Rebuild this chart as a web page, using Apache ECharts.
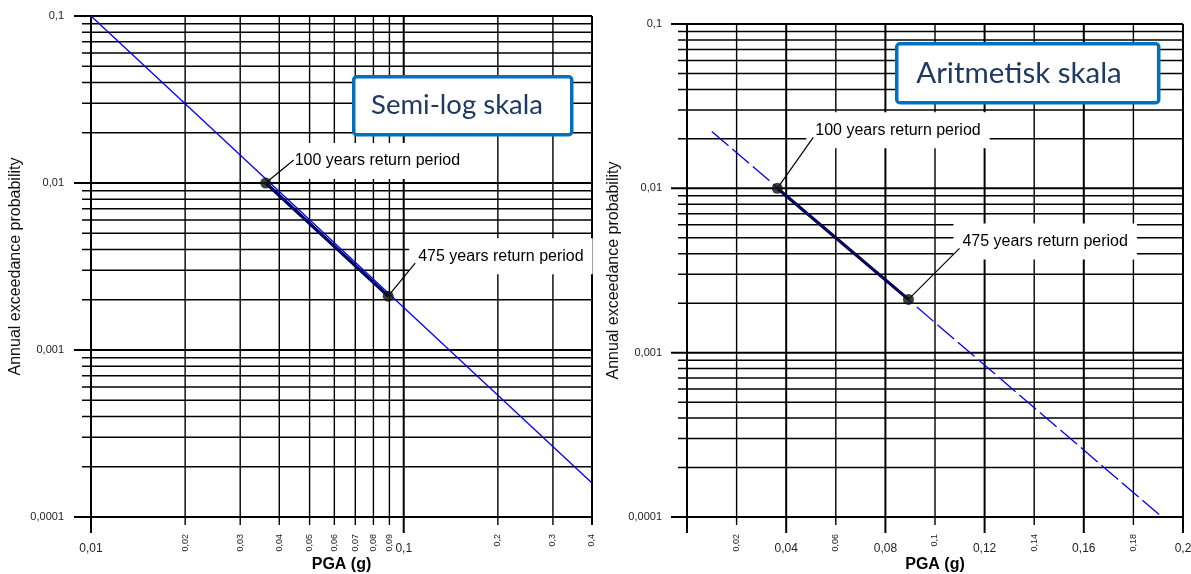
<!DOCTYPE html>
<html><head><meta charset="utf-8">
<script src="https://cdn.jsdelivr.net/npm/echarts@6/dist/echarts.min.js"></script>
<style>html,body{margin:0;padding:0;background:#fff}#c{width:1191px;height:574px}</style>
</head><body><div id="c"></div>
<script>
// ---------- data ----------
const yGridValues = [
  0.0001,0.0002,0.0003,0.0004,0.0005,0.0006,0.0007,0.0008,0.0009,
  0.001,0.002,0.003,0.004,0.005,0.006,0.007,0.008,0.009,
  0.01,0.02,0.03,0.04,0.05,0.06,0.07,0.08,0.09,
  0.1
];
const yMajorValues = [0.0001, 0.001, 0.01, 0.1];
const yTickLabels = ['0,0001', '0,001', '0,01', '0,1'];

const leftXValues = [0.01,0.02,0.03,0.04,0.05,0.06,0.07,0.08,0.09,0.1,0.2,0.3,0.4];
const leftXLabels = ['0,01','0,02','0,03','0,04','0,05','0,06','0,07','0,08','0,09','0,1','0,2','0,3','0,4'];
const leftXMajor = [0.01, 0.1];

const rightXValues = [0,0.02,0.04,0.06,0.08,0.1,0.12,0.14,0.16,0.18,0.2];
const rightXLabels = ['','0,02','0,04','0,06','0,08','0,1','0,12','0,14','0,16','0,18','0,2'];
const rightXMajor = [0,0.04,0.08,0.12,0.16,0.2];

// hazard curve
const leftCurve = [[0.01, 0.1], [0.4, 0.00016]];
const rightCurve = [[0.01, 0.0222], [0.1915, 0.0001]];
const leftReturnPoints = [[0.0362, 0.01], [0.0892, 0.0021]];
const rightReturnPoints = [[0.0364, 0.01], [0.0893, 0.00211]];
const returnLabels = ['100 years return period', '475 years return period'];

const leftTitle = 'Semi-log skala';
const rightTitle = 'Aritmetisk skala';
const xName = 'PGA (g)';
const yName = 'Annual exceedance probability';

// ---------- layout / style ----------
const FONT = '"Liberation Sans", Arial, sans-serif';
const PADX = 9, PADY = 10;
const leftLabelLayout = [{dx:29, dy:-22, lx:28, ly:-23}, {dx:30, dy:-40, lx:27, ly:-33}];
const rightLabelLayout = [{dx:38, dy:-58, lx:36, ly:-51}, {dx:54, dy:-58, lx:51, ly:-51}];

function isIn(v, arr) { return arr.some(m => Math.abs(m - v) < 1e-9); }

function hLines(xMin, xMax, majorLen, minorLen) {
  return function (params, api) {
    const v = api.value(1);
    const p1 = api.coord([xMin, v]);
    const p2 = api.coord([xMax, v]);
    const major = isIn(v, yMajorValues);
    return {type:'line', shape:{x1:p1[0] - (major ? majorLen : minorLen), y1:p1[1], x2:p2[0], y2:p2[1]},
      style:{stroke:'#000', lineWidth: major ? 2 : 1.5}};
  };
}
function vLines(yMin, yMax, majors, xMax, majorLen, minorLen) {
  return function (params, api) {
    const v = api.value(0);
    const p1 = api.coord([v, yMin]);
    const p2 = api.coord([v, yMax]);
    const major = isIn(v, majors);
    const thick = major || isIn(v, [xMax]);
    return {type:'line', shape:{x1:p1[0], y1:p1[1] + (major ? majorLen : minorLen), x2:p2[0], y2:p2[1]},
      style:{stroke:'#000', lineWidth: thick ? 2 : 1.4}};
  };
}
function xLabelRender(labels, majors, yMin) {
  return function (params, api) {
    const v = api.value(0);
    const p = api.coord([v, yMin]);
    const lab = labels[params.dataIndex];
    if (isIn(v, majors)) {
      return {type:'text', x:p[0], y:p[1] + 32,
        style:{text:lab, fill:'#222', fontSize:12, fontFamily:FONT, align:'center', verticalAlign:'middle'}};
    }
    return {type:'text', x:p[0], y:p[1] + 17, rotation: Math.PI / 2,
      style:{text:lab, fill:'#222', fontSize:9, fontFamily:FONT, align:'right', verticalAlign:'middle'}};
  };
}
function yLabelRender(xMin, gap) {
  return function (params, api) {
    const p = api.coord([xMin, api.value(1)]);
    return {type:'text', x:p[0] - gap, y:p[1],
      style:{text:yTickLabels[params.dataIndex], fill:'#222', fontSize:11, fontFamily:FONT, align:'right', verticalAlign:'middle'}};
  };
}
function annotRender(layout) {
  return function (params, api) {
    const i = params.dataIndex;
    const p = api.coord([api.value(0), api.value(1)]);
    const L = layout[i];
    return {type:'group', children:[
      {type:'text', x:p[0] + L.dx - PADX, y:p[1] + L.dy,
        style:{text:returnLabels[i], fill:'#000', fontSize:16, fontFamily:FONT, align:'left', verticalAlign:'middle',
          backgroundColor:'#fff', padding:[PADY, PADX]}},
      {type:'line', shape:{x1:p[0], y1:p[1], x2:p[0] + L.lx, y2:p[1] + L.ly}, style:{stroke:'#000', lineWidth:1.2}}
    ]};
  };
}

const chart = echarts.init(document.getElementById('c'), null, {renderer:'canvas'});

function axisX(type, gi, min, max, extra) {
  return Object.assign({type, gridIndex:gi, min, max, axisLine:{show:false}, axisTick:{show:false},
    axisLabel:{show:false}, splitLine:{show:false},
    name:xName, nameLocation:'middle', nameGap:40,
    nameTextStyle:{fontFamily:FONT, fontSize:16, fontWeight:'bold', color:'#000'}}, extra || {});
}
function axisY(gi, gap) {
  return {type:'log', logBase:10, gridIndex:gi, min:0.0001, max:0.1, axisLine:{show:false}, axisTick:{show:false},
    axisLabel:{show:false}, splitLine:{show:false},
    name:yName, nameLocation:'middle', nameGap:gap,
    nameTextStyle:{fontFamily:FONT, fontSize:16, color:'#111'}};
}

const TITLE_FONT = 'Lato, "Open Sans", sans-serif';
const option = {
  animation:false,
  backgroundColor:'#fff',
  grid:[{left:91, top:16, width:501, height:501, outerBoundsMode:'none', containLabel:false},
        {left:687, top:24, width:496, height:493, outerBoundsMode:'none', containLabel:false}],
  xAxis:[axisX('log', 0, 0.01, 0.4, {logBase:10}), axisX('value', 1, 0, 0.2, {interval:0.02})],
  yAxis:[axisY(0, 67), axisY(1, 65)],
  series:[
    // left grid lines
    {type:'custom', xAxisIndex:0, yAxisIndex:0, z:1, silent:true, renderItem:hLines(0.01, 0.4, 17, 9),
      data:yGridValues.map(v => [0.01, v])},
    {type:'custom', xAxisIndex:0, yAxisIndex:0, z:1, silent:true, renderItem:vLines(0.0001, 0.1, leftXMajor, 0.4, 16, 8),
      data:leftXValues.map(v => [v, 0.0001])},
    {type:'custom', xAxisIndex:0, yAxisIndex:0, z:1, silent:true, renderItem:xLabelRender(leftXLabels, leftXMajor, 0.0001),
      data:leftXValues.map(v => [v, 0.0001])},
    {type:'custom', xAxisIndex:0, yAxisIndex:0, z:1, silent:true, renderItem:yLabelRender(0.01, 27),
      data:yMajorValues.map(v => [0.01, v])},
    // right grid lines
    {type:'custom', xAxisIndex:1, yAxisIndex:1, z:1, silent:true, renderItem:hLines(0, 0.2, 16, 9),
      data:yGridValues.map(v => [0, v])},
    {type:'custom', xAxisIndex:1, yAxisIndex:1, z:1, silent:true, renderItem:vLines(0.0001, 0.1, rightXMajor, 0.2, 16, 8),
      data:rightXValues.map(v => [v, 0.0001])},
    {type:'custom', xAxisIndex:1, yAxisIndex:1, z:1, silent:true, renderItem:xLabelRender(rightXLabels, rightXMajor, 0.0001),
      data:rightXValues.map(v => [v, 0.0001])},
    {type:'custom', xAxisIndex:1, yAxisIndex:1, z:1, silent:true, renderItem:yLabelRender(0, 25),
      data:yMajorValues.map(v => [0, v])},
    // curves
    {type:'line', xAxisIndex:0, yAxisIndex:0, z:3, data:leftCurve, showSymbol:false, symbol:'none',
      lineStyle:{color:'#0000ff', width:1.3}},
    {type:'line', xAxisIndex:1, yAxisIndex:1, z:3, data:rightCurve, showSymbol:false, symbol:'none',
      lineStyle:{color:'#0000ff', width:1.3, type:[22, 5]}},
    // highlighted segments
    {type:'line', xAxisIndex:0, yAxisIndex:0, z:4, data:leftReturnPoints, symbol:'none', lineStyle:{color:'#000', width:3.2}},
    {type:'line', xAxisIndex:0, yAxisIndex:0, z:4, data:leftReturnPoints, symbol:'none', lineStyle:{color:'#0000cc', width:1.3}},
    {type:'line', xAxisIndex:1, yAxisIndex:1, z:4, data:rightReturnPoints, symbol:'none', lineStyle:{color:'#000', width:3.2}},
    {type:'line', xAxisIndex:1, yAxisIndex:1, z:4, data:rightReturnPoints, symbol:'none', lineStyle:{color:'#0000cc', width:1.3}},
    // annotations
    {type:'custom', xAxisIndex:0, yAxisIndex:0, z:5, silent:true, renderItem:annotRender(leftLabelLayout), data:leftReturnPoints},
    {type:'custom', xAxisIndex:1, yAxisIndex:1, z:5, silent:true, renderItem:annotRender(rightLabelLayout), data:rightReturnPoints},
    // points
    {type:'scatter', xAxisIndex:0, yAxisIndex:0, z:6, data:leftReturnPoints, symbolSize:11, itemStyle:{color:'#111'}},
    {type:'scatter', xAxisIndex:1, yAxisIndex:1, z:6, data:rightReturnPoints, symbolSize:11, itemStyle:{color:'#111'}}
  ],
  graphic:[
    {type:'rect', z:100, left:352, top:75, shape:{x:0, y:0, width:218, height:58, r:3},
      style:{fill:'#fff', stroke:'#0070C0', lineWidth:3.5}},
    {type:'text', z:101, x:457, y:105, style:{text:leftTitle, fill:'#1F3864', fontSize:27.5, fontFamily:TITLE_FONT, align:'center', verticalAlign:'middle'}},
    {type:'rect', z:100, left:895, top:42, shape:{x:0, y:0, width:262, height:59, r:3},
      style:{fill:'#fff', stroke:'#0070C0', lineWidth:3.5}},
    {type:'text', z:101, x:1019, y:73, style:{text:rightTitle, fill:'#1F3864', fontSize:29.5, fontFamily:TITLE_FONT, align:'center', verticalAlign:'middle'}}
  ]
};
chart.setOption(option);
</script>
</body></html>
